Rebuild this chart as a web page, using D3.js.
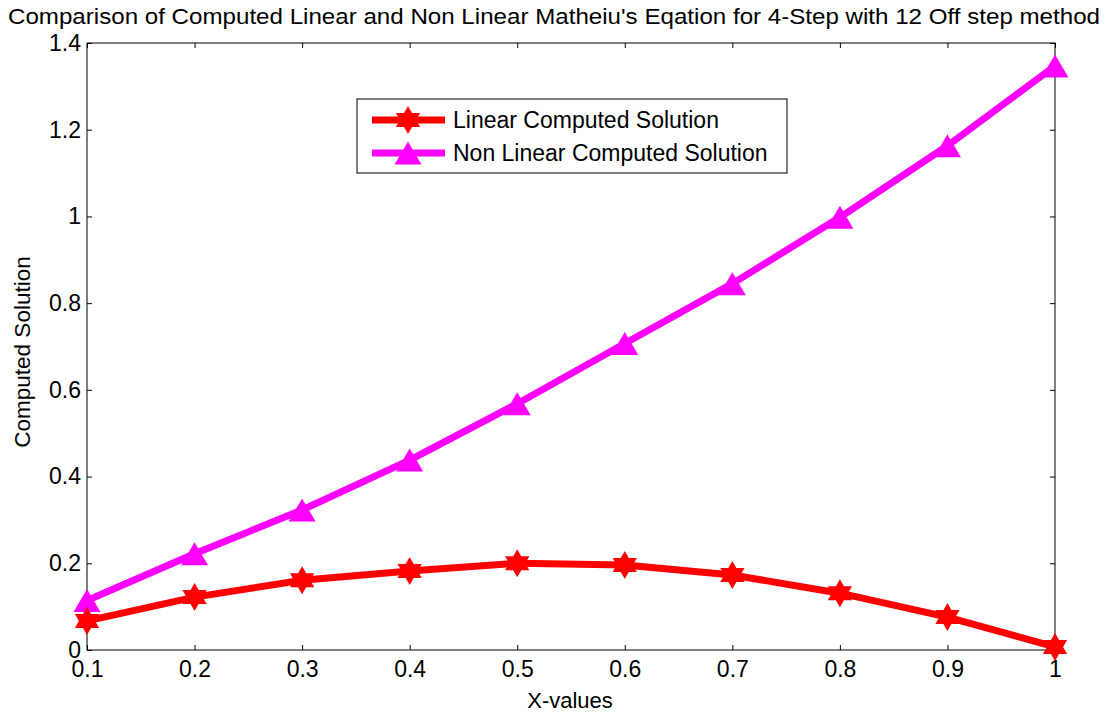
<!DOCTYPE html>
<html>
<head>
<meta charset="utf-8">
<script src="https://cdn.jsdelivr.net/npm/d3@7"></script>
<style>
  body { margin: 0; background: #fff; }
  svg { display: block; font-family: "Liberation Sans", Arial, sans-serif; }
</style>
</head>
<body>
<svg id="chart" width="1112" height="714"></svg>
<script>
const xValues = [0.1, 0.2, 0.3, 0.4, 0.5, 0.6, 0.7, 0.8, 0.9, 1.0];
const linearSolution = [0.067, 0.122, 0.161, 0.182, 0.200, 0.196, 0.173, 0.131, 0.076, 0.007];
const nonLinearSolution = [0.114, 0.222, 0.323, 0.438, 0.568, 0.707, 0.845, 0.998, 1.163, 1.347];
const xTicks = [0.1, 0.2, 0.3, 0.4, 0.5, 0.6, 0.7, 0.8, 0.9, 1];
const yTicks = [0, 0.2, 0.4, 0.6, 0.8, 1, 1.2, 1.4];
const seriesNames = ["Linear Computed Solution", "Non Linear Computed Solution"];
const titleText = "Comparison of Computed Linear and Non Linear Matheiu's Eqation for 4-Step with 12 Off step method";

const svg = d3.select("#chart");
const L = 87, R = 1055, T = 43, B = 650;
const x = d3.scaleLinear().domain([0.1, 1]).range([L, R]);
const y = d3.scaleLinear().domain([0, 1.4]).range([B, T]);

// axes box
svg.append("rect").attr("x", L).attr("y", T).attr("width", R - L).attr("height", B - T)
  .attr("fill", "none").attr("stroke", "#000").attr("stroke-width", 1);

const fmt = d => String(d);
const tk = 5;
const tickFont = 23;
const gxB = svg.append("g").attr("transform", `translate(0,${B})`)
  .call(d3.axisBottom(x).tickValues(xTicks).tickFormat(fmt).tickSizeInner(-tk).tickSizeOuter(0).tickPadding(11));
const gxT = svg.append("g").attr("transform", `translate(0,${T})`)
  .call(d3.axisTop(x).tickValues(xTicks).tickFormat("").tickSizeInner(-tk).tickSizeOuter(0));
const gyL = svg.append("g").attr("transform", `translate(${L},0)`)
  .call(d3.axisLeft(y).tickValues(yTicks).tickFormat(fmt).tickSizeInner(-tk).tickSizeOuter(0).tickPadding(6));
const gyR = svg.append("g").attr("transform", `translate(${R},0)`)
  .call(d3.axisRight(y).tickValues(yTicks).tickFormat("").tickSizeInner(-tk).tickSizeOuter(0));
[gxB, gxT, gyL, gyR].forEach(g => {
  g.select(".domain").remove();
  g.selectAll("text").attr("font-size", tickFont).attr("fill", "#000").attr("font-family", "Liberation Sans, Arial, sans-serif");
  g.selectAll("line").attr("stroke", "#000");
});
gxB.selectAll("text").attr("dy", "0.71em");

// title and labels
svg.append("text").attr("x", 554).attr("y", 24).attr("text-anchor", "middle")
  .attr("font-size", 22).attr("textLength", 1092).attr("lengthAdjust", "spacingAndGlyphs").text(titleText);
svg.append("text").attr("x", 570).attr("y", 708).attr("text-anchor", "middle")
  .attr("font-size", 22).text("X-values");
svg.append("text").attr("transform", "translate(30,352) rotate(-90)").attr("text-anchor", "middle")
  .attr("font-size", 22.5).text("Computed Solution");

// markers
function hexagram(r) {
  const pts = [];
  for (let i = 0; i < 12; i++) {
    const a = -Math.PI / 2 + i * Math.PI / 6;
    const rr = i % 2 === 0 ? r : r / Math.sqrt(3);
    pts.push([rr * Math.cos(a), rr * Math.sin(a)]);
  }
  return "M" + pts.map(p => p.join(",")).join("L") + "Z";
}
function triangle(w, h) {
  return `M0,${-h / 2}L${w / 2},${h / 2}L${-w / 2},${h / 2}Z`;
}
const starPath = hexagram(14);
const triPath = triangle(27, 23);

const line = d3.line().x(d => x(d[0])).y(d => y(d[1]));
const linData = xValues.map((v, i) => [v, linearSolution[i]]);
const nonData = xValues.map((v, i) => [v, nonLinearSolution[i]]);

svg.append("path").datum(nonData).attr("d", line).attr("fill", "none")
  .attr("stroke", "#ff00ff").attr("stroke-width", 7).attr("stroke-linejoin", "round");
svg.selectAll(".tri").data(nonData).enter().append("path")
  .attr("transform", d => `translate(${x(d[0])},${y(d[1])})`).attr("d", triPath).attr("fill", "#ff00ff");

svg.append("path").datum(linData).attr("d", line).attr("fill", "none")
  .attr("stroke", "#ff0000").attr("stroke-width", 7).attr("stroke-linejoin", "round");
svg.selectAll(".star").data(linData).enter().append("path")
  .attr("transform", d => `translate(${x(d[0])},${y(d[1])})`).attr("d", starPath).attr("fill", "#ff0000");

// legend
const lg = svg.append("g");
lg.append("rect").attr("x", 357).attr("y", 99).attr("width", 430).attr("height", 74)
  .attr("fill", "#fff").attr("stroke", "#000").attr("stroke-width", 1);
const legendItems = [
  { name: seriesNames[0], color: "#ff0000", path: starPath, y: 120 },
  { name: seriesNames[1], color: "#ff00ff", path: triPath, y: 153 }
];
legendItems.forEach(it => {
  lg.append("line").attr("x1", 372).attr("x2", 445).attr("y1", it.y).attr("y2", it.y)
    .attr("stroke", it.color).attr("stroke-width", 7);
  lg.append("path").attr("transform", `translate(408,${it.y})`).attr("d", it.path).attr("fill", it.color);
  lg.append("text").attr("x", 453).attr("y", it.y).attr("dy", "0.35em").attr("font-size", 23).text(it.name);
});
</script>
</body>
</html>
